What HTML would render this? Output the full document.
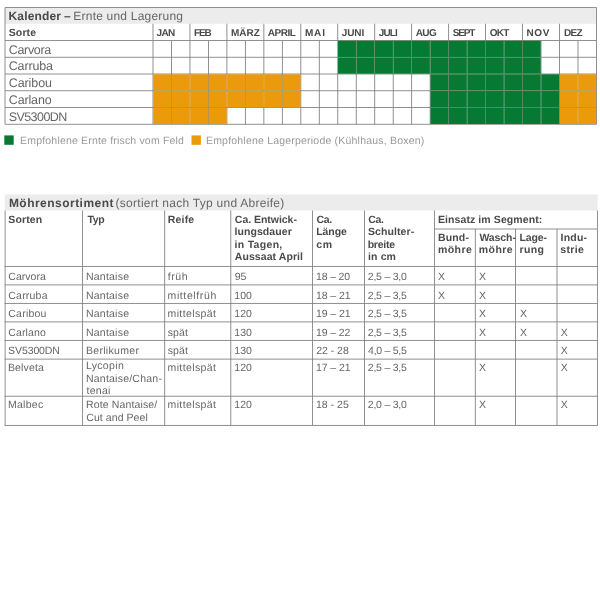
<!DOCTYPE html><html lang="de"><head><meta charset="utf-8"><title>Kalender – Ernte und Lagerung</title><style>
html,body{margin:0;padding:0;background:#fff}
#p{position:relative;width:600px;height:600px;overflow:hidden;background:#fff;text-rendering:geometricPrecision;font-family:"Liberation Sans", sans-serif}
#p i{position:absolute;display:block}
#p span{position:absolute;white-space:nowrap;line-height:14px;height:14px}
#p span.b{font-weight:bold}
</style></head><body><div id="p">
<svg width="600" height="600" viewBox="0 0 600 600" style="position:absolute;left:0;top:0">
<rect x="5.00" y="7.50" width="591.45" height="16.25" fill="#ececec"/>
<rect x="5.00" y="7.08" width="591.45" height="0.85" fill="#7e7e7e"/>
<rect x="5.00" y="40.08" width="591.45" height="0.85" fill="#7e7e7e"/>
<rect x="5.00" y="56.83" width="591.45" height="0.85" fill="#7e7e7e"/>
<rect x="5.00" y="73.58" width="591.45" height="0.85" fill="#7e7e7e"/>
<rect x="5.00" y="90.33" width="591.45" height="0.85" fill="#7e7e7e"/>
<rect x="5.00" y="107.08" width="591.45" height="0.85" fill="#7e7e7e"/>
<rect x="5.00" y="123.83" width="591.45" height="0.85" fill="#7e7e7e"/>
<rect x="4.58" y="7.50" width="0.85" height="116.75" fill="#7e7e7e"/>
<rect x="596.03" y="7.50" width="0.85" height="116.75" fill="#7e7e7e"/>
<rect x="152.57" y="23.75" width="0.85" height="100.50" fill="#7e7e7e"/>
<rect x="171.05" y="40.50" width="0.85" height="83.75" fill="#7e7e7e"/>
<rect x="189.53" y="23.75" width="0.85" height="100.50" fill="#7e7e7e"/>
<rect x="208.01" y="40.50" width="0.85" height="83.75" fill="#7e7e7e"/>
<rect x="226.48" y="23.75" width="0.85" height="100.50" fill="#7e7e7e"/>
<rect x="244.96" y="40.50" width="0.85" height="83.75" fill="#7e7e7e"/>
<rect x="263.44" y="23.75" width="0.85" height="100.50" fill="#7e7e7e"/>
<rect x="281.91" y="40.50" width="0.85" height="83.75" fill="#7e7e7e"/>
<rect x="300.39" y="23.75" width="0.85" height="100.50" fill="#7e7e7e"/>
<rect x="318.87" y="40.50" width="0.85" height="83.75" fill="#7e7e7e"/>
<rect x="337.34" y="23.75" width="0.85" height="100.50" fill="#7e7e7e"/>
<rect x="355.82" y="40.50" width="0.85" height="83.75" fill="#7e7e7e"/>
<rect x="374.30" y="23.75" width="0.85" height="100.50" fill="#7e7e7e"/>
<rect x="392.78" y="40.50" width="0.85" height="83.75" fill="#7e7e7e"/>
<rect x="411.25" y="23.75" width="0.85" height="100.50" fill="#7e7e7e"/>
<rect x="429.73" y="40.50" width="0.85" height="83.75" fill="#7e7e7e"/>
<rect x="448.21" y="23.75" width="0.85" height="100.50" fill="#7e7e7e"/>
<rect x="466.68" y="40.50" width="0.85" height="83.75" fill="#7e7e7e"/>
<rect x="485.16" y="23.75" width="0.85" height="100.50" fill="#7e7e7e"/>
<rect x="503.64" y="40.50" width="0.85" height="83.75" fill="#7e7e7e"/>
<rect x="522.12" y="23.75" width="0.85" height="100.50" fill="#7e7e7e"/>
<rect x="540.59" y="40.50" width="0.85" height="83.75" fill="#7e7e7e"/>
<rect x="559.07" y="23.75" width="0.85" height="100.50" fill="#7e7e7e"/>
<rect x="577.55" y="40.50" width="0.85" height="83.75" fill="#7e7e7e"/>
<rect x="338.04" y="40.77" width="17.94" height="16.21" fill="#067a33"/>
<rect x="356.52" y="40.77" width="17.94" height="16.21" fill="#067a33"/>
<rect x="374.99" y="40.77" width="17.94" height="16.21" fill="#067a33"/>
<rect x="393.47" y="40.77" width="17.94" height="16.21" fill="#067a33"/>
<rect x="411.95" y="40.77" width="17.94" height="16.21" fill="#067a33"/>
<rect x="430.43" y="40.77" width="17.94" height="16.21" fill="#067a33"/>
<rect x="448.90" y="40.77" width="17.94" height="16.21" fill="#067a33"/>
<rect x="467.38" y="40.77" width="17.94" height="16.21" fill="#067a33"/>
<rect x="485.86" y="40.77" width="17.94" height="16.21" fill="#067a33"/>
<rect x="504.33" y="40.77" width="17.94" height="16.21" fill="#067a33"/>
<rect x="522.81" y="40.77" width="17.94" height="16.21" fill="#067a33"/>
<rect x="338.04" y="57.52" width="17.94" height="16.21" fill="#067a33"/>
<rect x="356.52" y="57.52" width="17.94" height="16.21" fill="#067a33"/>
<rect x="374.99" y="57.52" width="17.94" height="16.21" fill="#067a33"/>
<rect x="393.47" y="57.52" width="17.94" height="16.21" fill="#067a33"/>
<rect x="411.95" y="57.52" width="17.94" height="16.21" fill="#067a33"/>
<rect x="430.43" y="57.52" width="17.94" height="16.21" fill="#067a33"/>
<rect x="448.90" y="57.52" width="17.94" height="16.21" fill="#067a33"/>
<rect x="467.38" y="57.52" width="17.94" height="16.21" fill="#067a33"/>
<rect x="485.86" y="57.52" width="17.94" height="16.21" fill="#067a33"/>
<rect x="504.33" y="57.52" width="17.94" height="16.21" fill="#067a33"/>
<rect x="522.81" y="57.52" width="17.94" height="16.21" fill="#067a33"/>
<rect x="153.27" y="74.27" width="17.94" height="16.21" fill="#ea9a0a"/>
<rect x="171.75" y="74.27" width="17.94" height="16.21" fill="#ea9a0a"/>
<rect x="190.22" y="74.27" width="17.94" height="16.21" fill="#ea9a0a"/>
<rect x="208.70" y="74.27" width="17.94" height="16.21" fill="#ea9a0a"/>
<rect x="227.18" y="74.27" width="17.94" height="16.21" fill="#ea9a0a"/>
<rect x="245.66" y="74.27" width="17.94" height="16.21" fill="#ea9a0a"/>
<rect x="264.13" y="74.27" width="17.94" height="16.21" fill="#ea9a0a"/>
<rect x="282.61" y="74.27" width="17.94" height="16.21" fill="#ea9a0a"/>
<rect x="430.43" y="74.27" width="17.94" height="16.21" fill="#067a33"/>
<rect x="448.90" y="74.27" width="17.94" height="16.21" fill="#067a33"/>
<rect x="467.38" y="74.27" width="17.94" height="16.21" fill="#067a33"/>
<rect x="485.86" y="74.27" width="17.94" height="16.21" fill="#067a33"/>
<rect x="504.33" y="74.27" width="17.94" height="16.21" fill="#067a33"/>
<rect x="522.81" y="74.27" width="17.94" height="16.21" fill="#067a33"/>
<rect x="541.29" y="74.27" width="17.94" height="16.21" fill="#067a33"/>
<rect x="559.76" y="74.27" width="17.94" height="16.21" fill="#ea9a0a"/>
<rect x="578.24" y="74.27" width="17.94" height="16.21" fill="#ea9a0a"/>
<rect x="153.27" y="91.02" width="17.94" height="16.21" fill="#ea9a0a"/>
<rect x="171.75" y="91.02" width="17.94" height="16.21" fill="#ea9a0a"/>
<rect x="190.22" y="91.02" width="17.94" height="16.21" fill="#ea9a0a"/>
<rect x="208.70" y="91.02" width="17.94" height="16.21" fill="#ea9a0a"/>
<rect x="227.18" y="91.02" width="17.94" height="16.21" fill="#ea9a0a"/>
<rect x="245.66" y="91.02" width="17.94" height="16.21" fill="#ea9a0a"/>
<rect x="264.13" y="91.02" width="17.94" height="16.21" fill="#ea9a0a"/>
<rect x="282.61" y="91.02" width="17.94" height="16.21" fill="#ea9a0a"/>
<rect x="430.43" y="91.02" width="17.94" height="16.21" fill="#067a33"/>
<rect x="448.90" y="91.02" width="17.94" height="16.21" fill="#067a33"/>
<rect x="467.38" y="91.02" width="17.94" height="16.21" fill="#067a33"/>
<rect x="485.86" y="91.02" width="17.94" height="16.21" fill="#067a33"/>
<rect x="504.33" y="91.02" width="17.94" height="16.21" fill="#067a33"/>
<rect x="522.81" y="91.02" width="17.94" height="16.21" fill="#067a33"/>
<rect x="541.29" y="91.02" width="17.94" height="16.21" fill="#067a33"/>
<rect x="559.76" y="91.02" width="17.94" height="16.21" fill="#ea9a0a"/>
<rect x="578.24" y="91.02" width="17.94" height="16.21" fill="#ea9a0a"/>
<rect x="153.27" y="107.77" width="17.94" height="16.21" fill="#ea9a0a"/>
<rect x="171.75" y="107.77" width="17.94" height="16.21" fill="#ea9a0a"/>
<rect x="190.22" y="107.77" width="17.94" height="16.21" fill="#ea9a0a"/>
<rect x="208.70" y="107.77" width="17.94" height="16.21" fill="#ea9a0a"/>
<rect x="430.43" y="107.77" width="17.94" height="16.21" fill="#067a33"/>
<rect x="448.90" y="107.77" width="17.94" height="16.21" fill="#067a33"/>
<rect x="467.38" y="107.77" width="17.94" height="16.21" fill="#067a33"/>
<rect x="485.86" y="107.77" width="17.94" height="16.21" fill="#067a33"/>
<rect x="504.33" y="107.77" width="17.94" height="16.21" fill="#067a33"/>
<rect x="522.81" y="107.77" width="17.94" height="16.21" fill="#067a33"/>
<rect x="541.29" y="107.77" width="17.94" height="16.21" fill="#067a33"/>
<rect x="559.76" y="107.77" width="17.94" height="16.21" fill="#ea9a0a"/>
<rect x="578.24" y="107.77" width="17.94" height="16.21" fill="#ea9a0a"/>
<rect x="4.30" y="135.40" width="9.40" height="9.40" fill="#067a33"/>
<rect x="191.50" y="135.40" width="9.40" height="9.40" fill="#ea9a0a"/>
<rect x="4.80" y="194.50" width="592.90" height="16.00" fill="#ececec"/>
<rect x="4.60" y="265.97" width="593.30" height="0.85" fill="#7e7e7e"/>
<rect x="4.60" y="284.47" width="593.30" height="0.85" fill="#7e7e7e"/>
<rect x="4.60" y="302.97" width="593.30" height="0.85" fill="#7e7e7e"/>
<rect x="4.60" y="321.47" width="593.30" height="0.85" fill="#7e7e7e"/>
<rect x="4.60" y="339.97" width="593.30" height="0.85" fill="#7e7e7e"/>
<rect x="4.60" y="358.68" width="593.30" height="0.85" fill="#7e7e7e"/>
<rect x="4.60" y="395.77" width="593.30" height="0.85" fill="#7e7e7e"/>
<rect x="4.60" y="424.97" width="593.30" height="0.85" fill="#7e7e7e"/>
<rect x="434.50" y="228.57" width="162.90" height="0.85" fill="#7e7e7e"/>
<rect x="4.67" y="210.50" width="0.85" height="214.90" fill="#7e7e7e"/>
<rect x="596.98" y="210.50" width="0.85" height="214.90" fill="#7e7e7e"/>
<rect x="82.08" y="210.50" width="0.85" height="214.90" fill="#7e7e7e"/>
<rect x="164.27" y="210.50" width="0.85" height="214.90" fill="#7e7e7e"/>
<rect x="230.38" y="210.50" width="0.85" height="214.90" fill="#7e7e7e"/>
<rect x="312.07" y="210.50" width="0.85" height="214.90" fill="#7e7e7e"/>
<rect x="364.07" y="210.50" width="0.85" height="214.90" fill="#7e7e7e"/>
<rect x="434.07" y="210.50" width="0.85" height="214.90" fill="#7e7e7e"/>
<rect x="474.88" y="229.00" width="0.85" height="196.40" fill="#7e7e7e"/>
<rect x="515.08" y="229.00" width="0.85" height="196.40" fill="#7e7e7e"/>
<rect x="556.58" y="229.00" width="0.85" height="196.40" fill="#7e7e7e"/>
</svg>
<span id="t0" class="b" style="left:8.50px;top:9.00px;font-size:12px;color:#4a4a4a;letter-spacing:0.157px">Kalender</span>
<span id="t1" class="b" style="left:63.93px;top:9.00px;font-size:12px;color:#4a4a4a">–</span>
<span id="t2" style="left:73.34px;top:9.00px;font-size:12px;color:#666;letter-spacing:0.210px">Ernte und Lagerung</span>
<span id="t3" class="b" style="left:8.79px;top:26.00px;font-size:10.5px;color:#4a4a4a;letter-spacing:0.089px">Sorte</span>
<span id="t4" class="b" style="left:156.45px;top:27.00px;font-size:10px;color:#4a4a4a;letter-spacing:-0.552px">JAN</span>
<span id="t5" class="b" style="left:193.91px;top:27.00px;font-size:10px;color:#4a4a4a;letter-spacing:-1.033px">FEB</span>
<span id="t6" class="b" style="left:230.91px;top:27.00px;font-size:10px;color:#4a4a4a;letter-spacing:0.065px">MÄRZ</span>
<span id="t7" class="b" style="left:267.87px;top:27.00px;font-size:10px;color:#4a4a4a;letter-spacing:-0.522px">APRIL</span>
<span id="t8" class="b" style="left:304.90px;top:27.00px;font-size:10px;color:#4a4a4a;letter-spacing:0.848px">MAI</span>
<span id="t9" class="b" style="left:341.66px;top:27.00px;font-size:10px;color:#4a4a4a;letter-spacing:-0.080px">JUNI</span>
<span id="t10" class="b" style="left:378.66px;top:27.00px;font-size:10px;color:#4a4a4a;letter-spacing:-0.808px">JULI</span>
<span id="t11" class="b" style="left:415.63px;top:27.00px;font-size:10px;color:#4a4a4a;letter-spacing:-0.517px">AUG</span>
<span id="t12" class="b" style="left:452.74px;top:27.00px;font-size:10px;color:#4a4a4a;letter-spacing:-1.139px">SEPT</span>
<span id="t13" class="b" style="left:489.84px;top:27.00px;font-size:10px;color:#4a4a4a;letter-spacing:-0.808px">OKT</span>
<span id="t14" class="b" style="left:526.59px;top:27.00px;font-size:10px;color:#4a4a4a;letter-spacing:0.557px">NOV</span>
<span id="t15" class="b" style="left:563.91px;top:27.00px;font-size:10px;color:#4a4a4a;letter-spacing:-0.640px">DEZ</span>
<span id="t16" style="left:8.75px;top:43.00px;font-size:12.5px;color:#666;letter-spacing:-0.327px">Carvora</span>
<span id="t17" style="left:8.75px;top:59.00px;font-size:12.5px;color:#666;letter-spacing:-0.159px">Carruba</span>
<span id="t18" style="left:8.75px;top:76.00px;font-size:12.5px;color:#666;letter-spacing:-0.098px">Caribou</span>
<span id="t19" style="left:8.75px;top:93.00px;font-size:12.5px;color:#666;letter-spacing:-0.142px">Carlano</span>
<span id="t20" style="left:8.73px;top:110.00px;font-size:12.5px;color:#666;letter-spacing:-0.574px">SV5300DN</span>
<span id="t21" style="left:20.11px;top:134.00px;font-size:10.5px;color:#999;letter-spacing:0.181px">Empfohlene Ernte frisch vom Feld</span>
<span id="t22" style="left:205.96px;top:134.00px;font-size:10.5px;color:#999;letter-spacing:0.204px">Empfohlene Lagerperiode (Kühlhaus, Boxen)</span>
<span id="t23" class="b" style="left:8.89px;top:196.00px;font-size:12px;color:#4a4a4a;letter-spacing:0.474px">Möhrensortiment</span>
<span id="t24" style="left:115.53px;top:196.00px;font-size:12px;color:#666;letter-spacing:0.273px">(sortiert nach Typ und Abreife)</span>
<span id="t25" class="b" style="left:8.33px;top:213.00px;font-size:10.5px;color:#4a4a4a;letter-spacing:0.136px">Sorten</span>
<span id="t26" class="b" style="left:87.48px;top:213.00px;font-size:10.5px;color:#4a4a4a;letter-spacing:-0.403px">Typ</span>
<span id="t27" class="b" style="left:167.76px;top:213.00px;font-size:10.5px;color:#4a4a4a;letter-spacing:0.187px">Reife</span>
<span id="t28" class="b" style="left:234.85px;top:213.00px;font-size:10.5px;color:#4a4a4a;letter-spacing:-0.033px">Ca. Entwick-</span>
<span id="t29" class="b" style="left:234.50px;top:225.00px;font-size:10.5px;color:#4a4a4a;letter-spacing:0.072px">lungsdauer</span>
<span id="t30" class="b" style="left:234.52px;top:238.00px;font-size:10.5px;color:#4a4a4a;letter-spacing:0.306px">in Tagen,</span>
<span id="t31" class="b" style="left:234.83px;top:250.00px;font-size:10.5px;color:#4a4a4a;letter-spacing:0.068px">Aussaat April</span>
<span id="t32" class="b" style="left:316.42px;top:213.00px;font-size:10.5px;color:#4a4a4a;letter-spacing:-0.296px">Ca.</span>
<span id="t33" class="b" style="left:316.20px;top:225.00px;font-size:10.5px;color:#4a4a4a;letter-spacing:-0.066px">Länge</span>
<span id="t34" class="b" style="left:316.33px;top:238.00px;font-size:10.5px;color:#4a4a4a;letter-spacing:0.594px">cm</span>
<span id="t35" class="b" style="left:368.13px;top:213.00px;font-size:10.5px;color:#4a4a4a;letter-spacing:-0.254px">Ca.</span>
<span id="t36" class="b" style="left:367.94px;top:225.00px;font-size:10.5px;color:#4a4a4a;letter-spacing:0.087px">Schulter-</span>
<span id="t37" class="b" style="left:367.67px;top:238.00px;font-size:10.5px;color:#4a4a4a;letter-spacing:-0.212px">breite</span>
<span id="t38" class="b" style="left:367.97px;top:250.00px;font-size:10.5px;color:#4a4a4a;letter-spacing:0.139px">in cm</span>
<span id="t39" class="b" style="left:437.91px;top:213.00px;font-size:10.5px;color:#4a4a4a;letter-spacing:0.095px">Einsatz im Segment:</span>
<span id="t40" class="b" style="left:438.06px;top:231.00px;font-size:10.5px;color:#4a4a4a;letter-spacing:0.134px">Bund-</span>
<span id="t41" class="b" style="left:437.95px;top:243.00px;font-size:10.5px;color:#4a4a4a;letter-spacing:0.453px">möhre</span>
<span id="t42" class="b" style="left:479.38px;top:231.00px;font-size:10.5px;color:#4a4a4a;letter-spacing:-0.090px">Wasch-</span>
<span id="t43" class="b" style="left:478.81px;top:243.00px;font-size:10.5px;color:#4a4a4a;letter-spacing:0.423px">möhre</span>
<span id="t44" class="b" style="left:519.62px;top:231.00px;font-size:10.5px;color:#4a4a4a;letter-spacing:-0.169px">Lage-</span>
<span id="t45" class="b" style="left:519.53px;top:243.00px;font-size:10.5px;color:#4a4a4a;letter-spacing:0.320px">rung</span>
<span id="t46" class="b" style="left:560.61px;top:231.00px;font-size:10.5px;color:#4a4a4a;letter-spacing:0.195px">Indu-</span>
<span id="t47" class="b" style="left:560.22px;top:243.00px;font-size:10.5px;color:#4a4a4a;letter-spacing:0.344px">strie</span>
<span id="t48" style="left:8.31px;top:270.00px;font-size:10.5px;color:#666;letter-spacing:0.015px">Carvora</span>
<span id="t49" style="left:85.93px;top:270.00px;font-size:10.5px;color:#666;letter-spacing:0.231px">Nantaise</span>
<span id="t50" style="left:167.72px;top:270.00px;font-size:10.5px;color:#666;letter-spacing:0.619px">früh</span>
<span id="t51" style="left:234.78px;top:270.00px;font-size:10.5px;color:#666;letter-spacing:-0.197px">95</span>
<span id="t52" style="left:316.01px;top:270.00px;font-size:10.5px;color:#666;letter-spacing:-0.149px">18 – 20</span>
<span id="t53" style="left:367.83px;top:270.00px;font-size:10.5px;color:#666;letter-spacing:-0.231px">2,5 – 3,0</span>
<span id="t54" style="left:438.08px;top:270.00px;font-size:10.5px;color:#666">X</span>
<span id="t55" style="left:479.08px;top:270.00px;font-size:10.5px;color:#666">X</span>
<span id="t56" style="left:8.31px;top:289.00px;font-size:10.5px;color:#666;letter-spacing:0.210px">Carruba</span>
<span id="t57" style="left:85.93px;top:289.00px;font-size:10.5px;color:#666;letter-spacing:0.231px">Nantaise</span>
<span id="t58" style="left:167.52px;top:289.00px;font-size:10.5px;color:#666;letter-spacing:0.620px">mittelfrüh</span>
<span id="t59" style="left:234.31px;top:289.00px;font-size:10.5px;color:#666;letter-spacing:0.062px">100</span>
<span id="t60" style="left:316.01px;top:289.00px;font-size:10.5px;color:#666;letter-spacing:-0.094px">18 – 21</span>
<span id="t61" style="left:367.83px;top:289.00px;font-size:10.5px;color:#666;letter-spacing:-0.236px">2,5 – 3,5</span>
<span id="t62" style="left:438.08px;top:289.00px;font-size:10.5px;color:#666">X</span>
<span id="t63" style="left:479.08px;top:289.00px;font-size:10.5px;color:#666">X</span>
<span id="t64" style="left:8.31px;top:307.00px;font-size:10.5px;color:#666;letter-spacing:0.229px">Caribou</span>
<span id="t65" style="left:85.93px;top:307.00px;font-size:10.5px;color:#666;letter-spacing:0.231px">Nantaise</span>
<span id="t66" style="left:167.52px;top:307.00px;font-size:10.5px;color:#666;letter-spacing:0.389px">mittelspät</span>
<span id="t67" style="left:234.31px;top:307.00px;font-size:10.5px;color:#666;letter-spacing:0.062px">120</span>
<span id="t68" style="left:316.01px;top:307.00px;font-size:10.5px;color:#666;letter-spacing:-0.094px">19 – 21</span>
<span id="t69" style="left:367.83px;top:307.00px;font-size:10.5px;color:#666;letter-spacing:-0.236px">2,5 – 3,5</span>
<span id="t70" style="left:479.08px;top:307.00px;font-size:10.5px;color:#666">X</span>
<span id="t71" style="left:520.10px;top:307.00px;font-size:10.5px;color:#666">X</span>
<span id="t72" style="left:8.31px;top:326.00px;font-size:10.5px;color:#666;letter-spacing:0.134px">Carlano</span>
<span id="t73" style="left:85.93px;top:326.00px;font-size:10.5px;color:#666;letter-spacing:0.231px">Nantaise</span>
<span id="t74" style="left:167.70px;top:326.00px;font-size:10.5px;color:#666;letter-spacing:0.147px">spät</span>
<span id="t75" style="left:234.31px;top:326.00px;font-size:10.5px;color:#666;letter-spacing:0.062px">130</span>
<span id="t76" style="left:316.01px;top:326.00px;font-size:10.5px;color:#666;letter-spacing:-0.097px">19 – 22</span>
<span id="t77" style="left:367.83px;top:326.00px;font-size:10.5px;color:#666;letter-spacing:-0.236px">2,5 – 3,5</span>
<span id="t78" style="left:479.08px;top:326.00px;font-size:10.5px;color:#666">X</span>
<span id="t79" style="left:520.10px;top:326.00px;font-size:10.5px;color:#666">X</span>
<span id="t80" style="left:560.73px;top:326.00px;font-size:10.5px;color:#666">X</span>
<span id="t81" style="left:8.10px;top:344.00px;font-size:10.5px;color:#666;letter-spacing:-0.099px">SV5300DN</span>
<span id="t82" style="left:85.93px;top:344.00px;font-size:10.5px;color:#666;letter-spacing:0.311px">Berlikumer</span>
<span id="t83" style="left:167.70px;top:344.00px;font-size:10.5px;color:#666;letter-spacing:0.147px">spät</span>
<span id="t84" style="left:234.31px;top:344.00px;font-size:10.5px;color:#666;letter-spacing:0.062px">130</span>
<span id="t85" style="left:316.25px;top:344.00px;font-size:10.5px;color:#666;letter-spacing:-0.034px">22 - 28</span>
<span id="t86" style="left:368.10px;top:344.00px;font-size:10.5px;color:#666;letter-spacing:-0.270px">4,0 – 5,5</span>
<span id="t87" style="left:560.73px;top:344.00px;font-size:10.5px;color:#666">X</span>
<span id="t88" style="left:7.93px;top:361.00px;font-size:10.5px;color:#666;letter-spacing:0.147px">Belveta</span>
<span id="t89" style="left:167.52px;top:361.00px;font-size:10.5px;color:#666;letter-spacing:0.389px">mittelspät</span>
<span id="t90" style="left:234.31px;top:361.00px;font-size:10.5px;color:#666;letter-spacing:0.062px">120</span>
<span id="t91" style="left:316.01px;top:361.00px;font-size:10.5px;color:#666;letter-spacing:-0.094px">17 – 21</span>
<span id="t92" style="left:367.83px;top:361.00px;font-size:10.5px;color:#666;letter-spacing:-0.236px">2,5 – 3,5</span>
<span id="t93" style="left:479.08px;top:361.00px;font-size:10.5px;color:#666">X</span>
<span id="t94" style="left:560.73px;top:361.00px;font-size:10.5px;color:#666">X</span>
<span id="t95" style="left:7.94px;top:398.00px;font-size:10.5px;color:#666;letter-spacing:0.294px">Malbec</span>
<span id="t96" style="left:167.52px;top:398.00px;font-size:10.5px;color:#666;letter-spacing:0.389px">mittelspät</span>
<span id="t97" style="left:234.31px;top:398.00px;font-size:10.5px;color:#666;letter-spacing:0.062px">120</span>
<span id="t98" style="left:316.01px;top:398.00px;font-size:10.5px;color:#666;letter-spacing:0.018px">18 - 25</span>
<span id="t99" style="left:367.83px;top:398.00px;font-size:10.5px;color:#666;letter-spacing:-0.231px">2,0 – 3,0</span>
<span id="t100" style="left:479.08px;top:398.00px;font-size:10.5px;color:#666">X</span>
<span id="t101" style="left:560.73px;top:398.00px;font-size:10.5px;color:#666">X</span>
<span id="t102" style="left:85.93px;top:359.00px;font-size:10.5px;color:#666;letter-spacing:0.333px">Lycopin</span>
<span id="t103" style="left:85.93px;top:372.00px;font-size:10.5px;color:#666;letter-spacing:0.232px">Nantaise/Chan-</span>
<span id="t104" style="left:86.46px;top:384.00px;font-size:10.5px;color:#666;letter-spacing:0.301px">tenai</span>
<span id="t105" style="left:85.93px;top:398.00px;font-size:10.5px;color:#666;letter-spacing:0.146px">Rote Nantaise/</span>
<span id="t106" style="left:86.31px;top:411.00px;font-size:10.5px;color:#666;letter-spacing:0.069px">Cut and Peel</span>
</div></body></html>
